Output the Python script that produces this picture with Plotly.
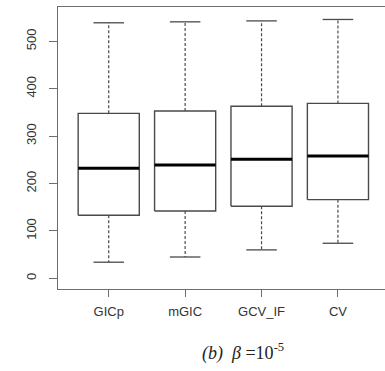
import plotly.graph_objects as go

categories = ["GICp", "mGIC", "GCV_IF", "CV"]
lower_whisker = [34, 45, 60, 74]
q1 = [133, 142, 152, 166]
median = [232, 239, 251, 258]
q3 = [348, 353, 363, 369]
upper_whisker = [539, 541, 543, 546]
y_ticks = [0, 100, 200, 300, 400, 500]

box_half = 0.4
cap_half = 0.2
line_col = "#4a4a4a"
frame_col = "#6e6e6e"

fig = go.Figure()
for i, cat in enumerate(categories):
    x = i + 1
    fig.add_trace(go.Scatter(
        x=[x, x, None, x, x],
        y=[q3[i], upper_whisker[i], None, q1[i], lower_whisker[i]],
        mode="lines", line=dict(color=line_col, width=1.2, dash="3px,2px"),
        hoverinfo="skip", showlegend=False))
    fig.add_trace(go.Scatter(
        x=[x - cap_half, x + cap_half, None, x - cap_half, x + cap_half],
        y=[upper_whisker[i], upper_whisker[i], None, lower_whisker[i], lower_whisker[i]],
        mode="lines", line=dict(color=line_col, width=1.3),
        hoverinfo="skip", showlegend=False))
    fig.add_trace(go.Scatter(
        x=[x - box_half, x + box_half, x + box_half, x - box_half, x - box_half],
        y=[q1[i], q1[i], q3[i], q3[i], q1[i]],
        mode="lines", fill="toself", fillcolor="white",
        line=dict(color=line_col, width=1.4),
        hoverinfo="skip", showlegend=False))
    fig.add_trace(go.Scatter(
        x=[x - box_half, x + box_half],
        y=[median[i], median[i]],
        mode="lines", line=dict(color="black", width=3),
        hoverinfo="skip", showlegend=False))

fig.update_layout(
    width=385, height=371, autosize=False,
    margin=dict(l=58, r=0, t=7, b=82, pad=0),
    paper_bgcolor="white", plot_bgcolor="white",
    font=dict(family="Liberation Sans, Arial, sans-serif", size=13, color="#333"),
    xaxis=dict(
        range=[0.336, 4.616], tickmode="array", tickvals=[1, 2, 3, 4],
        ticktext=categories, showgrid=False, zeroline=False,
        showline=True, mirror=True, linecolor=frame_col, linewidth=1.4,
        ticks="outside", ticklen=7, tickcolor=frame_col, tickwidth=1.3,
        ticklabelstandoff=3,
        tickfont=dict(size=13, color="#333")),
    yaxis=dict(
        range=[-22.5, 572.3], tickmode="array", tickvals=y_ticks,
        showgrid=False, zeroline=False,
        showline=True, linecolor=frame_col, linewidth=1.4,
        ticks="outside", ticklen=8, tickcolor=frame_col, tickwidth=1.3,
        ticklabelstandoff=8,
        tickangle=-90, tickfont=dict(size=13, color="#333")),
    annotations=[dict(
        text="<i>(b)</i>  <i>β</i> =10<sup>-5</sup>",
        xref="paper", yref="paper", x=0.566, y=-0.223,
        xanchor="center", yanchor="middle", showarrow=False,
        font=dict(family="Liberation Serif, Times New Roman, serif", size=18, color="#222"))],
)

fig.write_html("out.html")
